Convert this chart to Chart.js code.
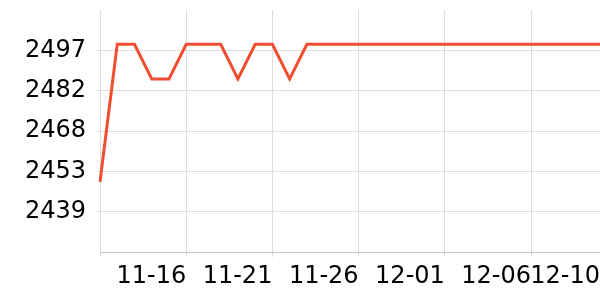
<!DOCTYPE html>
<html>
<head>
<meta charset="utf-8">
<script src="https://cdn.jsdelivr.net/npm/chart.js@4"></script>
<style>
  html, body { margin: 0; padding: 0; background: #fff; }
  #wrap { width: 600px; height: 300px; }
</style>
</head>
<body>
<div id="wrap"><canvas id="chart"></canvas></div>
<script>
const days = [
  '11-11', '11-12', '11-13', '11-14', '11-15', '11-16', '11-17', '11-18', '11-19', '11-20',
  '11-21', '11-22', '11-23', '11-24', '11-25', '11-26', '11-27', '11-28', '11-29', '11-30',
  '12-01', '12-02', '12-03', '12-04', '12-05', '12-06', '12-07', '12-08', '12-09', '12-10'
];
const values = [
  2449.5, 2499, 2499, 2486.5, 2486.5, 2499, 2499, 2499, 2486.5, 2499,
  2499, 2486.5, 2499, 2499, 2499, 2499, 2499, 2499, 2499, 2499,
  2499, 2499, 2499, 2499, 2499, 2499, 2499, 2499, 2499, 2499
];
const shownDays = ['11-11', '11-16', '11-21', '11-26', '12-01', '12-06', '12-10'];
const yMin = 2424.3, yMax = 2511.3, yStep = 14.5;

const font = { family: 'DejaVu Sans', size: 24 };

new Chart(document.getElementById('chart'), {
  type: 'line',
  data: {
    labels: days,
    datasets: [{
      data: values,
      borderColor: '#f04e30',
      borderWidth: 3,
      pointRadius: 0,
      tension: 0,
      fill: false
    }]
  },
  options: {
    responsive: true,
    maintainAspectRatio: false,
    animation: false,
    layout: { padding: { top: 10, left: 0, right: 0, bottom: 0 } },
    plugins: { legend: { display: false }, tooltip: { enabled: false } },
    scales: {
      x: {
        offset: false,
        grid: { color: '#dddddd', tickLength: 5 },
        border: { color: '#c4c4c4' },
        ticks: {
          autoSkip: false,
          maxRotation: 0,
          align: 'end',
          padding: 5,
          color: '#000',
          font: font,
          callback: function (v, i) {
            const d = days[i];
            if (!shownDays.includes(d)) return null;
            return i === 0 ? '' : d;
          }
        },
        afterFit: (s) => { s.height = 48; s.paddingLeft = 0; s.paddingRight = 0; }
      },
      y: {
        min: yMin,
        max: yMax,
        grid: { color: '#dddddd', tickLength: 3 },
        border: { color: '#dddddd' },
        ticks: {
          stepSize: yStep,
          padding: 11,
          color: '#000',
          font: font,
          callback: function (v) {
            if (v < yMin + 1 || v > yMax - 1) return null;
            return Math.round(v);
          }
        },
        afterFit: (s) => { s.width = 100; s.paddingTop = 0; s.paddingBottom = 0; }
      }
    }
  }
});
</script>
</body>
</html>
